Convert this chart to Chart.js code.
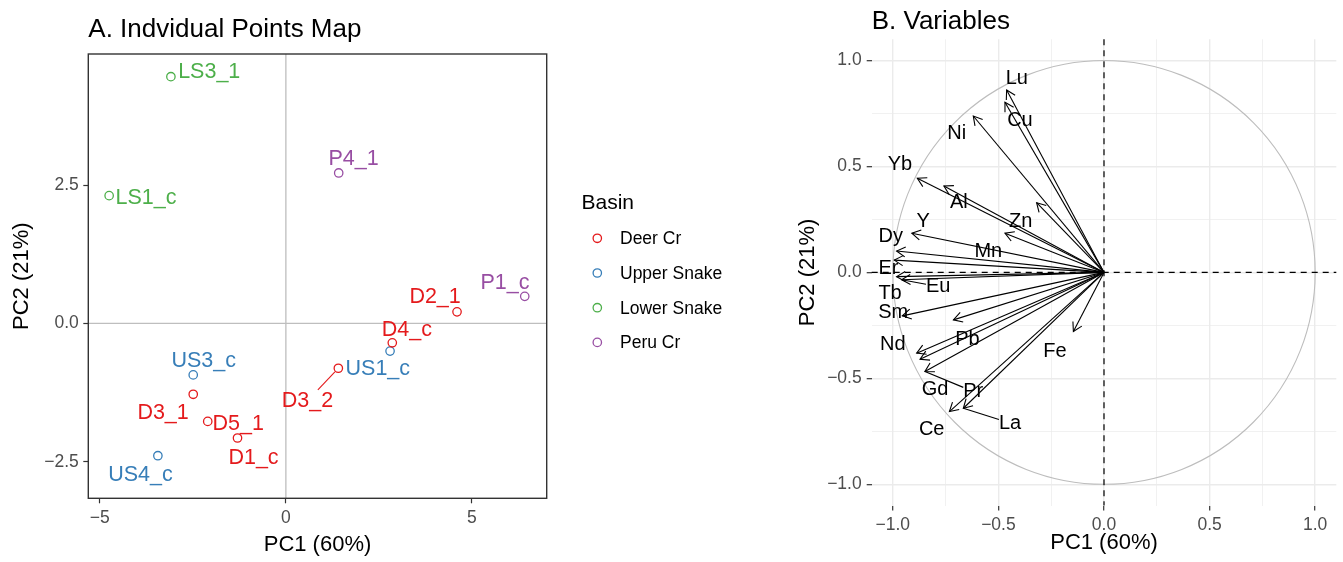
<!DOCTYPE html>
<html>
<head>
<meta charset="utf-8">
<title>PCA - Individuals and Variables</title>
<script src="https://cdn.jsdelivr.net/npm/chart.js"></script>
<style>
    body {
        margin: 0;
        background: #ffffff;
    }

    .wrap {
        position: relative;
        width: 1343px;
        height: 562px;
    }

    #pointsBox {
        position: absolute;
        left: 0;
        top: 0;
        width: 780px;
        height: 562px;
    }

    #varsBox {
        position: absolute;
        left: 780px;
        top: 0;
        width: 563px;
        height: 562px;
    }
</style>
</head>
<body>
<div class="wrap">
    <div id="pointsBox"><canvas id="pointsChart" width="780" height="562"></canvas></div>
    <div id="varsBox"><canvas id="varsChart" width="563" height="562"></canvas></div>
</div>

<script>
    // ---- A. individual points ----
    const basins = ['Deer Cr', 'Upper Snake', 'Lower Snake', 'Peru Cr'];
    const basinColors = ['#E41A1C', '#377EB8', '#4DAF4A', '#984EA3'];

    const sampleNames = ['LS3_1', 'LS1_c', 'P4_1', 'P1_c', 'D2_1', 'D4_c', 'US1_c', 'D3_2', 'US3_c', 'D3_1', 'D5_1', 'D1_c', 'US4_c'];
    const sampleBasin = ['Lower Snake', 'Lower Snake', 'Peru Cr', 'Peru Cr', 'Deer Cr', 'Deer Cr', 'Upper Snake', 'Deer Cr', 'Upper Snake', 'Deer Cr', 'Deer Cr', 'Deer Cr', 'Upper Snake'];
    const samplePC1 = [-3.09, -4.75, 1.42, 6.42, 4.60, 2.86, 2.80, 1.41, -2.49, -2.49, -2.10, -1.30, -3.44];
    const samplePC2 = [4.46, 2.31, 2.72, 0.49, 0.21, -0.35, -0.50, -0.81, -0.93, -1.28, -1.77, -2.07, -2.39];
    // where the repelled text labels sit (data units)
    const sampleLabelPC1 = [-2.06, -3.76, 1.82, 5.89, 4.01, 3.25, 2.47, 0.58, -2.21, -3.30, -1.28, -0.87, -3.91];
    const sampleLabelPC2 = [4.54, 2.26, 2.97, 0.73, 0.48, -0.12, -0.83, -1.40, -0.68, -1.62, -1.81, -2.44, -2.74];
    const sampleLeaders = ['D3_2'];

    const pointsXTicks = [-5, 0, 5];
    const pointsYTicks = [-2.5, 0, 2.5];

    // ---- B. variables ----
    const varNames = ['Lu', 'Cu', 'Ni', 'Yb', 'Al', 'Zn', 'Y', 'Mn', 'Dy', 'Er', 'Eu', 'Tb', 'Sm', 'Pb', 'Nd', 'Gd', 'Pr', 'Ce', 'La', 'Fe'];
    const varPC1 = [-0.461, -0.469, -0.619, -0.884, -0.758, -0.319, -0.910, -0.469, -0.982, -0.993, -0.958, -0.982, -0.955, -0.713, -0.887, -0.871, -0.848, -0.732, -0.666, -0.145];
    const varPC2 = [0.861, 0.803, 0.738, 0.444, 0.408, 0.329, 0.185, 0.185, 0.101, 0.058, -0.035, -0.020, -0.205, -0.224, -0.381, -0.410, -0.468, -0.657, -0.641, -0.279];
    const varLabelPC1 = [-0.413, -0.398, -0.697, -0.966, -0.687, -0.394, -0.856, -0.548, -1.010, -1.021, -0.785, -1.013, -0.998, -0.647, -1.000, -0.800, -0.619, -0.816, -0.445, -0.232];
    const varLabelPC2 = [0.916, 0.716, 0.657, 0.507, 0.329, 0.240, 0.240, 0.101, 0.169, 0.020, -0.067, -0.098, -0.190, -0.318, -0.342, -0.554, -0.562, -0.740, -0.711, -0.374];
    const varLeaders = ['Eu', 'Pr', 'La'];

    const varTicks = [-1, -0.75, -0.5, -0.25, 0, 0.25, 0.5, 0.75, 1];

    const FONT = '"Liberation Sans", Arial, sans-serif';
    const TICK_GREY = '#4D4D4D';
    Chart.defaults.font.family = FONT;

    function fmtTick(v, digits) {
        const s = digits ? v.toFixed(digits) : String(v);
        return s.replace('-', '\u2212');
    }

    function isMajor(v) {
        return Math.abs(v * 2 - Math.round(v * 2)) < 1e-9;
    }

    // line from an anchor toward a label centre, stopping at the label box
    function drawLeader(ctx, ax, ay, cx, cy, hw, hh, gap) {
        const dx = ax - cx, dy = ay - cy;
        const tx = dx !== 0 ? hw / Math.abs(dx) : Infinity;
        const ty = dy !== 0 ? hh / Math.abs(dy) : Infinity;
        const t = Math.min(tx, ty);
        if (t >= 1) return;
        const ex = cx + dx * t, ey = cy + dy * t;
        const len = Math.hypot(ax - ex, ay - ey);
        const sx = ax - (ax - ex) / len * gap;
        const sy = ay - (ay - ey) / len * gap;
        ctx.beginPath();
        ctx.moveTo(sx, sy);
        ctx.lineTo(ex, ey);
        ctx.stroke();
    }

    const pointsDecor = {
        id: 'pointsDecor',
        beforeDatasetsDraw(chart) {
            const {ctx, chartArea: a, scales: {x, y}} = chart;
            ctx.save();
            ctx.strokeStyle = '#BEBEBE';
            ctx.lineWidth = 1.3;
            const x0 = x.getPixelForValue(0), y0 = y.getPixelForValue(0);
            ctx.beginPath();
            ctx.moveTo(x0, a.top);
            ctx.lineTo(x0, a.bottom);
            ctx.moveTo(a.left, y0);
            ctx.lineTo(a.right, y0);
            ctx.stroke();
            ctx.restore();
        },
        afterDatasetsDraw(chart) {
            const {ctx, chartArea: a, scales: {x, y}} = chart;
            ctx.save();

            // point labels
            ctx.font = '21.5px ' + FONT;
            ctx.textAlign = 'center';
            ctx.textBaseline = 'middle';
            sampleNames.forEach((name, k) => {
                const color = basinColors[basins.indexOf(sampleBasin[k])];
                const cx = x.getPixelForValue(sampleLabelPC1[k]);
                const cy = y.getPixelForValue(sampleLabelPC2[k]);
                if (sampleLeaders.includes(name)) {
                    const w = ctx.measureText(name).width;
                    ctx.strokeStyle = color;
                    ctx.lineWidth = 1.1;
                    drawLeader(ctx, x.getPixelForValue(samplePC1[k]), y.getPixelForValue(samplePC2[k]),
                        cx, cy, w / 2 + 2, 11, 5);
                }
                ctx.fillStyle = color;
                ctx.fillText(name, cx, cy);
            });

            // panel border
            ctx.strokeStyle = '#333333';
            ctx.lineWidth = 1.4;
            ctx.strokeRect(a.left, a.top, a.right - a.left, a.bottom - a.top);

            // title
            ctx.fillStyle = '#000000';
            ctx.textAlign = 'left';
            ctx.textBaseline = 'alphabetic';
            ctx.font = '26px ' + FONT;
            ctx.fillText('A. Indvidual Points Map', 88.3, 36.7);

            // legend
            ctx.font = '21px ' + FONT;
            ctx.textBaseline = 'middle';
            ctx.fillText('Basin', 581.5, 203);
            ctx.font = '17.5px ' + FONT;
            basins.forEach((b, i) => {
                const cy = 238.3 + i * 34.7;
                ctx.strokeStyle = basinColors[i];
                ctx.lineWidth = 1.3;
                ctx.beginPath();
                ctx.arc(597.3, cy, 4.2, 0, Math.PI * 2);
                ctx.stroke();
                ctx.fillStyle = '#000000';
                ctx.fillText(b, 620, cy + 1);
            });
            ctx.restore();
        }
    };

    new Chart(document.getElementById('pointsChart'), {
        type: 'scatter',
        data: {
            datasets: basins.map((b, i) => ({
                label: b,
                data: sampleNames
                    .map((n, k) => ({x: samplePC1[k], y: samplePC2[k], basin: sampleBasin[k]}))
                    .filter(p => p.basin === b),
                borderColor: basinColors[i],
                backgroundColor: 'rgba(0,0,0,0)',
                pointRadius: 4.2,
                pointBorderWidth: 1.3,
                pointHoverRadius: 4.2
            }))
        },
        options: {
            responsive: false,
            animation: false,
            devicePixelRatio: 1,
            layout: {padding: {left: 0, top: 54, right: 233.3, bottom: 0}},
            plugins: {legend: {display: false}, tooltip: {enabled: false}},
            scales: {
                x: {
                    type: 'linear',
                    min: -5.31,
                    max: 7.01,
                    afterBuildTicks: s => { s.ticks = pointsXTicks.map(v => ({value: v})); },
                    afterFit: s => { s.height = 63.7; },
                    ticks: {
                        callback: v => fmtTick(v),
                        color: TICK_GREY,
                        font: {size: 17.5},
                        padding: 4.5,
                        autoSkip: false,
                        maxRotation: 0
                    },
                    grid: {drawOnChartArea: false, drawTicks: true, tickLength: 5, tickColor: '#333333', tickWidth: 1.2},
                    border: {display: false},
                    title: {display: true, text: 'PC1 (60%)', color: '#000', font: {size: 22}, padding: {top: 0, bottom: 3.8}}
                },
                y: {
                    type: 'linear',
                    min: -3.16,
                    max: 4.87,
                    afterBuildTicks: s => { s.ticks = pointsYTicks.map(v => ({value: v})); },
                    afterFit: s => { s.width = 88.3; },
                    ticks: {
                        callback: v => fmtTick(v, 1),
                        color: TICK_GREY,
                        font: {size: 17.5},
                        padding: 4.5,
                        autoSkip: false
                    },
                    grid: {drawOnChartArea: false, drawTicks: true, tickLength: 5, tickColor: '#333333', tickWidth: 1.2},
                    border: {display: false},
                    title: {display: true, text: 'PC2 (21%)', color: '#000', font: {size: 22}, padding: {top: 8.8, bottom: 0}}
                }
            }
        },
        plugins: [pointsDecor]
    });

    const varsDecor = {
        id: 'varsDecor',
        beforeDatasetsDraw(chart) {
            const {ctx, chartArea: a, scales: {x, y}} = chart;
            const x0 = x.getPixelForValue(0), y0 = y.getPixelForValue(0);
            ctx.save();
            // correlation circle
            ctx.strokeStyle = '#BDBDBD';
            ctx.lineWidth = 1.1;
            ctx.beginPath();
            ctx.ellipse(x0, y0, x.getPixelForValue(1) - x0, y0 - y.getPixelForValue(1), 0, 0, Math.PI * 2);
            ctx.stroke();
            // dashed axes
            ctx.strokeStyle = '#000000';
            ctx.lineWidth = 1.2;
            ctx.setLineDash([6, 5]);
            ctx.beginPath();
            ctx.moveTo(x0, a.top);
            ctx.lineTo(x0, a.bottom);
            ctx.moveTo(a.left, y0);
            ctx.lineTo(a.right, y0);
            ctx.stroke();
            ctx.restore();
        },
        afterDatasetsDraw(chart) {
            const {ctx, scales: {x, y}} = chart;
            const x0 = x.getPixelForValue(0), y0 = y.getPixelForValue(0);
            ctx.save();

            // arrow heads
            ctx.strokeStyle = '#000000';
            ctx.lineWidth = 1.1;
            varNames.forEach((n, i) => {
                const tx = x.getPixelForValue(varPC1[i]), ty = y.getPixelForValue(varPC2[i]);
                const ang = Math.atan2(ty - y0, tx - x0);
                const len = 10, spread = Math.PI / 6;
                ctx.beginPath();
                ctx.moveTo(tx - len * Math.cos(ang - spread), ty - len * Math.sin(ang - spread));
                ctx.lineTo(tx, ty);
                ctx.lineTo(tx - len * Math.cos(ang + spread), ty - len * Math.sin(ang + spread));
                ctx.stroke();
            });

            // variable labels
            ctx.font = '20px ' + FONT;
            ctx.textAlign = 'center';
            ctx.textBaseline = 'middle';
            ctx.fillStyle = '#000000';
            varNames.forEach((n, i) => {
                const cx = x.getPixelForValue(varLabelPC1[i]), cy = y.getPixelForValue(varLabelPC2[i]);
                if (varLeaders.includes(n)) {
                    const w = ctx.measureText(n).width;
                    drawLeader(ctx, x.getPixelForValue(varPC1[i]), y.getPixelForValue(varPC2[i]),
                        cx, cy, w / 2, 9, 0);
                }
                ctx.fillText(n, cx, cy);
            });

            // title
            ctx.textAlign = 'left';
            ctx.textBaseline = 'alphabetic';
            ctx.font = '26px ' + FONT;
            ctx.fillText('B. Variables', 91.7, 28.5);
            ctx.restore();
        }
    };

    const gridOpts = {
        color: '#EBEBEB',
        lineWidth: c => (c.tick && isMajor(c.tick.value)) ? 1.4 : 0.7,
        drawTicks: true,
        tickLength: 5,
        tickWidth: 1.2,
        tickColor: c => (c.tick && isMajor(c.tick.value)) ? '#333333' : 'rgba(0,0,0,0)'
    };

    new Chart(document.getElementById('varsChart'), {
        type: 'scatter',
        data: {
            datasets: varNames.map((n, i) => ({
                label: n,
                data: [{x: 0, y: 0}, {x: varPC1[i], y: varPC2[i]}],
                showLine: true,
                borderColor: '#000000',
                borderWidth: 1.1,
                pointRadius: 0,
                pointHoverRadius: 0
            }))
        },
        options: {
            responsive: false,
            animation: false,
            devicePixelRatio: 1,
            layout: {padding: {left: 0, top: 39.3, right: 6.7, bottom: 0}},
            plugins: {legend: {display: false}, tooltip: {enabled: false}},
            scales: {
                x: {
                    type: 'linear',
                    min: -1.1,
                    max: 1.1,
                    afterBuildTicks: s => { s.ticks = varTicks.map(v => ({value: v})); },
                    afterFit: s => { s.height = 56.5; },
                    ticks: {
                        callback: v => isMajor(v) ? fmtTick(v, 1) : '',
                        color: TICK_GREY,
                        font: {size: 17.5},
                        padding: 4,
                        autoSkip: false,
                        maxRotation: 0
                    },
                    grid: gridOpts,
                    border: {display: false},
                    title: {display: true, text: 'PC1 (60%)', color: '#000', font: {size: 22}, padding: {top: 0, bottom: 5.5}}
                },
                y: {
                    type: 'linear',
                    min: -1.1,
                    max: 1.1,
                    afterBuildTicks: s => { s.ticks = varTicks.map(v => ({value: v})); },
                    afterFit: s => { s.width = 91.7; },
                    ticks: {
                        callback: v => isMajor(v) ? fmtTick(v, 1) : '',
                        color: TICK_GREY,
                        font: {size: 17.5},
                        padding: 5,
                        autoSkip: false
                    },
                    grid: gridOpts,
                    border: {display: false},
                    title: {display: true, text: 'PC2 (21%)', color: '#000', font: {size: 22}, padding: {top: 14.8, bottom: 0}}
                }
            }
        },
        plugins: [varsDecor]
    });
</script>
</body>
</html>
